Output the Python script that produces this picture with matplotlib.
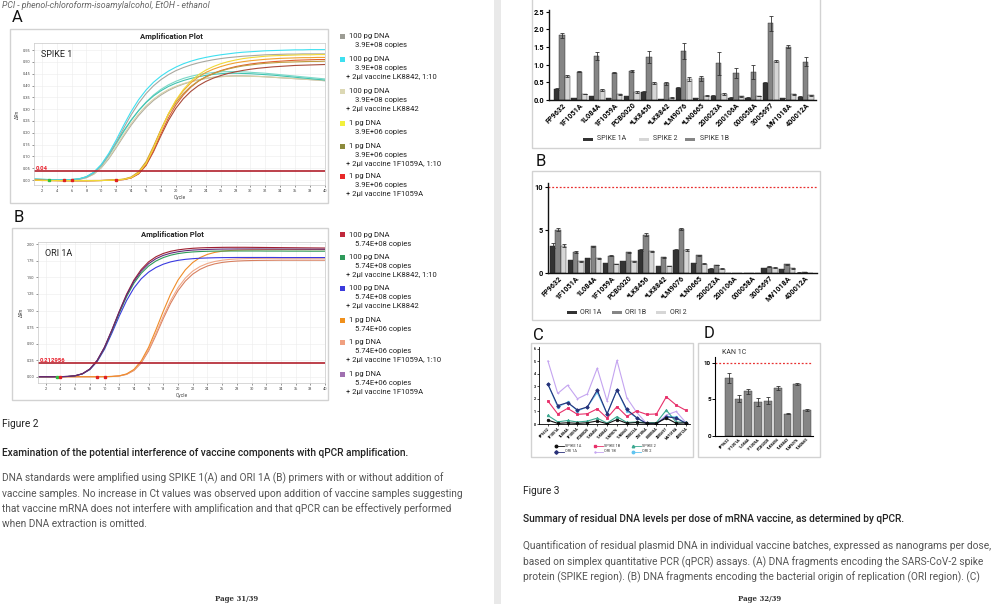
import matplotlib.pyplot as plt
from matplotlib.patches import Rectangle

plt.rcParams['font.family'] = ['Roboto', 'DejaVu Sans']

W, H = 1000, 604

# ---- Figure 2: amplification curves (dRn per cycle) ----
cycles = list(range(1, 41))

# SPIKE 1 (panel A, left page)
spike_gray1 = [0.003, 0.002, 0.001, 0.000, 0.000, 0.001, 0.004, 0.012, 0.030, 0.061, 0.106, 0.160, 0.220, 0.276, 0.325, 0.366, 0.399, 0.425, 0.446, 0.463, 0.476, 0.487, 0.496, 0.503, 0.509, 0.514, 0.518, 0.521, 0.524, 0.526, 0.528, 0.530, 0.531, 0.532, 0.533, 0.533, 0.534, 0.534, 0.534, 0.534]
spike_gray2 = [0.003, 0.002, 0.001, 0.000, 0.000, 0.001, 0.003, 0.010, 0.025, 0.052, 0.090, 0.137, 0.186, 0.232, 0.273, 0.308, 0.337, 0.360, 0.379, 0.394, 0.406, 0.416, 0.424, 0.430, 0.435, 0.438, 0.440, 0.441, 0.441, 0.440, 0.439, 0.437, 0.435, 0.433, 0.431, 0.429, 0.427, 0.425, 0.423, 0.420]
spike_cyan = [0.004, 0.003, 0.002, 0.001, 0.001, 0.002, 0.005, 0.014, 0.033, 0.066, 0.113, 0.170, 0.232, 0.290, 0.340, 0.381, 0.414, 0.440, 0.461, 0.478, 0.492, 0.503, 0.512, 0.519, 0.525, 0.530, 0.534, 0.538, 0.541, 0.543, 0.545, 0.547, 0.548, 0.549, 0.550, 0.551, 0.551, 0.552, 0.552, 0.552]
spike_teal1 = [0.004, 0.003, 0.002, 0.001, 0.001, 0.002, 0.005, 0.014, 0.033, 0.064, 0.108, 0.158, 0.208, 0.254, 0.294, 0.328, 0.356, 0.378, 0.396, 0.410, 0.421, 0.430, 0.437, 0.443, 0.447, 0.450, 0.452, 0.452, 0.451, 0.450, 0.448, 0.446, 0.444, 0.441, 0.438, 0.435, 0.432, 0.429, 0.426, 0.423]
spike_teal2 = [0.003, 0.002, 0.001, 0.001, 0.001, 0.002, 0.004, 0.012, 0.030, 0.060, 0.103, 0.153, 0.204, 0.252, 0.294, 0.330, 0.360, 0.384, 0.403, 0.418, 0.430, 0.439, 0.446, 0.451, 0.455, 0.458, 0.459, 0.459, 0.458, 0.456, 0.454, 0.452, 0.449, 0.446, 0.443, 0.440, 0.437, 0.434, 0.431, 0.428]
spike_beige = [0.002, 0.001, 0.001, 0.000, 0.000, 0.001, 0.003, 0.010, 0.026, 0.054, 0.094, 0.142, 0.192, 0.239, 0.280, 0.314, 0.342, 0.365, 0.383, 0.397, 0.408, 0.417, 0.424, 0.430, 0.434, 0.437, 0.439, 0.440, 0.440, 0.439, 0.438, 0.437, 0.435, 0.433, 0.431, 0.429, 0.427, 0.425, 0.423, 0.421]
spike_yellow = [0.000, -0.001, -0.002, -0.002, -0.002, -0.002, -0.002, -0.002, -0.002, -0.002, -0.001, 0.000, 0.003, 0.010, 0.030, 0.070, 0.135, 0.210, 0.280, 0.338, 0.383, 0.418, 0.445, 0.465, 0.480, 0.492, 0.501, 0.508, 0.514, 0.518, 0.521, 0.524, 0.526, 0.527, 0.528, 0.529, 0.530, 0.530, 0.531, 0.531]
spike_orange = [-0.001, -0.002, -0.002, -0.003, -0.003, -0.003, -0.003, -0.003, -0.003, -0.002, -0.001, 0.000, 0.003, 0.011, 0.032, 0.073, 0.138, 0.212, 0.280, 0.335, 0.378, 0.411, 0.436, 0.455, 0.469, 0.480, 0.489, 0.496, 0.501, 0.505, 0.508, 0.511, 0.513, 0.515, 0.516, 0.517, 0.518, 0.518, 0.519, 0.519]
spike_red = [0.000, -0.001, -0.002, -0.002, -0.003, -0.003, -0.003, -0.003, -0.002, -0.002, -0.001, 0.000, 0.002, 0.009, 0.027, 0.064, 0.125, 0.196, 0.263, 0.318, 0.360, 0.393, 0.418, 0.437, 0.451, 0.463, 0.472, 0.480, 0.486, 0.491, 0.495, 0.498, 0.501, 0.503, 0.505, 0.507, 0.508, 0.509, 0.510, 0.510]
spike_olive = [-0.001, -0.002, -0.002, -0.002, -0.003, -0.003, -0.003, -0.003, -0.003, -0.002, -0.001, 0.001, 0.004, 0.013, 0.035, 0.078, 0.143, 0.214, 0.278, 0.328, 0.366, 0.396, 0.419, 0.436, 0.450, 0.461, 0.470, 0.477, 0.483, 0.487, 0.491, 0.494, 0.496, 0.498, 0.499, 0.500, 0.501, 0.502, 0.502, 0.503]
spike_brown = [0.000, -0.001, -0.002, -0.002, -0.002, -0.002, -0.002, -0.002, -0.002, -0.002, -0.001, 0.000, 0.002, 0.009, 0.026, 0.062, 0.120, 0.188, 0.252, 0.304, 0.344, 0.375, 0.399, 0.417, 0.431, 0.442, 0.451, 0.458, 0.464, 0.469, 0.473, 0.476, 0.479, 0.481, 0.483, 0.485, 0.486, 0.487, 0.488, 0.489]

# ORI 1A (panel B, left page)
ori_red = [0.000, 0.000, 0.000, 0.001, 0.004, 0.014, 0.045, 0.115, 0.245, 0.445, 0.705, 0.985, 1.245, 1.460, 1.620, 1.735, 1.812, 1.862, 1.895, 1.916, 1.930, 1.940, 1.946, 1.950, 1.952, 1.954, 1.955, 1.955, 1.955, 1.954, 1.953, 1.952, 1.951, 1.950, 1.949, 1.948, 1.947, 1.946, 1.945, 1.944]
ori_purple = [0.000, 0.000, 0.000, 0.001, 0.004, 0.015, 0.046, 0.117, 0.247, 0.446, 0.703, 0.978, 1.232, 1.440, 1.595, 1.707, 1.783, 1.833, 1.866, 1.888, 1.903, 1.913, 1.919, 1.923, 1.926, 1.928, 1.929, 1.930, 1.930, 1.930, 1.930, 1.929, 1.929, 1.928, 1.928, 1.927, 1.927, 1.926, 1.926, 1.925]
ori_green = [0.000, 0.000, 0.000, 0.001, 0.004, 0.014, 0.044, 0.112, 0.239, 0.434, 0.687, 0.958, 1.208, 1.412, 1.563, 1.672, 1.748, 1.800, 1.836, 1.860, 1.875, 1.885, 1.891, 1.895, 1.897, 1.898, 1.899, 1.899, 1.899, 1.899, 1.899, 1.898, 1.898, 1.898, 1.897, 1.897, 1.897, 1.896, 1.896, 1.896]
ori_blue = [0.000, 0.000, 0.000, 0.001, 0.004, 0.013, 0.042, 0.107, 0.228, 0.415, 0.657, 0.915, 1.150, 1.340, 1.480, 1.580, 1.650, 1.700, 1.735, 1.758, 1.773, 1.783, 1.790, 1.794, 1.797, 1.799, 1.800, 1.801, 1.801, 1.801, 1.801, 1.801, 1.801, 1.800, 1.800, 1.800, 1.800, 1.800, 1.800, 1.800]
ori_orange = [0.000, 0.000, 0.000, 0.000, 0.000, 0.000, 0.000, 0.000, 0.000, 0.001, 0.004, 0.013, 0.042, 0.110, 0.240, 0.445, 0.710, 0.990, 1.250, 1.460, 1.615, 1.725, 1.800, 1.848, 1.878, 1.896, 1.906, 1.912, 1.915, 1.917, 1.918, 1.919, 1.919, 1.920, 1.920, 1.920, 1.920, 1.920, 1.920, 1.920]
ori_salmon = [0.000, 0.000, 0.000, 0.000, 0.000, 0.000, 0.000, 0.000, 0.000, 0.001, 0.004, 0.012, 0.038, 0.100, 0.220, 0.410, 0.655, 0.915, 1.150, 1.345, 1.490, 1.595, 1.665, 1.711, 1.741, 1.760, 1.772, 1.779, 1.783, 1.786, 1.788, 1.789, 1.789, 1.790, 1.790, 1.790, 1.790, 1.790, 1.790, 1.790]
ori_dsalmon = [0.000, 0.000, 0.000, 0.000, 0.000, 0.000, 0.000, 0.000, 0.000, 0.001, 0.003, 0.011, 0.035, 0.094, 0.208, 0.390, 0.627, 0.880, 1.110, 1.300, 1.445, 1.550, 1.622, 1.672, 1.705, 1.726, 1.739, 1.747, 1.752, 1.755, 1.757, 1.758, 1.759, 1.760, 1.760, 1.760, 1.760, 1.760, 1.760, 1.760]

spike_threshold = 0.04
ori_threshold = 0.212956
spike_base_cycles = [3, 5, 6, 12]
ori_base_cycles = [3.5, 4, 9, 10]

# ---- Figure 3: residual DNA per dose (ng) ----
batches = ['FP9632', '1F1051A', '1L084A', '1F1059A', 'PCB0020', '*LK8456', '*LK8842', '*LM9076',
           '*LN0665', '200023A', '200106A', '000058A', '3005697', 'MV1018A', '400012A']
spike_1a = [0.31, 0.05, 0.10, 0.05, 0.10, 0.24, 0.02, 0.35, 0.06, 0.12, 0.07, 0.07, 0.47, 0.06, 0.09]
spike_1a_err = [0.02, 0.01, 0.01, 0.01, 0.01, 0.02, 0.01, 0.02, 0.01, 0.02, 0.01, 0.01, 0.03, 0.01, 0.01]
spike_1b = [1.84, 0.80, 1.25, 0.77, 0.82, 1.21, 0.47, 1.39, 0.61, 1.04, 0.77, 0.80, 2.17, 1.51, 1.08]
spike_1b_err = [0.07, 0.02, 0.12, 0.01, 0.04, 0.17, 0.04, 0.23, 0.08, 0.32, 0.15, 0.20, 0.22, 0.05, 0.13]
spike_2 = [0.68, 0.17, 0.28, 0.16, 0.23, 0.47, 0.07, 0.59, 0.12, 0.16, 0.10, 0.11, 1.11, 0.16, 0.13]
spike_2_err = [0.02, 0.01, 0.02, 0.01, 0.02, 0.03, 0.01, 0.05, 0.02, 0.03, 0.01, 0.01, 0.02, 0.02, 0.02]

ori_1a = [3.18, 1.47, 1.71, 1.12, 1.36, 2.71, 0.81, 2.71, 1.16, 0.50, 0.04, 0.02, 0.58, 0.47, 0.05]
ori_1a_err = [0.30, 0.05, 0.06, 0.04, 0.05, 0.10, 0.05, 0.08, 0.05, 0.04, 0.01, 0.01, 0.04, 0.03, 0.01]
ori_1b = [5.04, 2.44, 3.10, 2.02, 2.40, 4.46, 1.82, 5.08, 2.09, 0.93, 0.04, 0.02, 0.72, 1.00, 0.10]
ori_1b_err = [0.15, 0.08, 0.05, 0.06, 0.05, 0.20, 0.06, 0.10, 0.06, 0.05, 0.01, 0.01, 0.05, 0.10, 0.02]
ori_2 = [3.18, 1.36, 1.74, 1.05, 1.36, 2.52, 0.81, 2.71, 1.05, 0.50, 0.03, 0.02, 0.62, 0.55, 0.03]
ori_2_err = [0.20, 0.06, 0.06, 0.05, 0.05, 0.06, 0.05, 0.10, 0.06, 0.04, 0.01, 0.01, 0.05, 0.08, 0.01]

kan_batches = batches[:9]
kan_1c = [7.95, 5.10, 6.10, 4.65, 4.85, 6.55, 3.05, 7.15, 3.60]
kan_1c_err = [0.65, 0.50, 0.30, 0.60, 0.50, 0.30, 0.08, 0.12, 0.15]
limit_ng = 10

fig = plt.figure(figsize=(W / 100, H / 100), dpi=100)
fig.patch.set_facecolor('white')


def px_axes(x, y, w, h):
    return fig.add_axes([x / W, 1 - (y + h) / H, w / W, h / H])


def px_text(x, y, s, **kw):
    kw.setdefault('va', 'center')
    fig.text(x / W, 1 - y / H, s, **kw)


def px_rect(x0, y0, x1, y1, ec='#d2d2d2', fc='none', lw=1.0):
    fig.add_artist(Rectangle((x0 / W, 1 - y1 / H), (x1 - x0) / W, (y1 - y0) / H,
                             transform=fig.transFigure, ec=ec, fc=fc, lw=lw))


# page gap
px_rect(494, -2, 501, H + 2, ec='none', fc='#e9e9e9', lw=0)

body_col = '#555555'
head_col = '#222222'
fs_body = 7.3

# ================= LEFT PAGE =================
px_text(2, 5, 'PCI - phenol-chloroform-isoamylalcohol, EtOH - ethanol', fontsize=6.3,
        color='#666666', style='italic')


def amp_panel(letter, box, ax_rect, curves, ylim, yticks, xlim, thr, thr_lab, name, base_cycles):
    x0, y0, x1, y1 = box
    px_text(x0 + 2, y0 - 11, letter, fontsize=12, color='#111111')
    px_rect(x0, y0, x1, y1)
    px_text((x0 + x1) / 2 + 2, y0 + 7, 'Amplification Plot', fontsize=5.6, fontweight='bold',
            ha='center', color='#222222')
    ax = px_axes(*ax_rect)
    for vals, col in curves:
        ax.plot(cycles, vals, color=col, lw=0.8)
    ax.axhline(thr, color='#b2202c', lw=1.2)
    ax.text(xlim[0] + 0.2, thr, thr_lab, color='#e8202c', fontsize=4.3, fontweight='bold',
            va='bottom', ha='left')
    ax.plot(base_cycles[:1], [thr * 0], 's', color='#30c040', ms=1.8)
    ax.plot(base_cycles[1:], [thr * 0] * (len(base_cycles) - 1), 's', color='#e02020', ms=1.6)
    ax.text(xlim[0] + 1.0, ylim[1] - (ylim[1] - ylim[0]) * 0.08, name, fontsize=6.5,
            va='center', color='#222222')
    ax.set_xlim(*xlim)
    ax.set_ylim(*ylim)
    ax.set_xticks(range(2, 41, 2))
    ax.set_yticks(yticks)
    ax.set_yticklabels(['%.2f' % t for t in yticks])
    ax.tick_params(labelsize=2.8, length=1.2, width=0.4, pad=1.5, colors='#444444')
    ax.grid(True, color='#ececec', lw=0.4)
    ax.set_axisbelow(True)
    for s in ax.spines.values():
        s.set_color('#c8c8c8')
        s.set_linewidth(0.5)
    ax.set_xlabel('Cycle', fontsize=3.6, labelpad=1.5, color='#444444')
    ax.set_ylabel('ΔRn', fontsize=3.6, labelpad=2, color='#444444')
    return ax


amp_panel('A', (10, 29, 328, 203), (34, 43, 291, 142),
          [(spike_gray2, '#b0aca0'), (spike_beige, '#d8d0a8'), (spike_teal2, '#7ad8c8'),
           (spike_teal1, '#40c4b0'), (spike_gray1, '#a8a8a0'), (spike_cyan, '#3ee0f0'),
           (spike_brown, '#a84a3a'), (spike_red, '#e06030'), (spike_olive, '#c09c40'),
           (spike_orange, '#f0a030'), (spike_yellow, '#f0d838')],
          (-0.021, 0.58), [0.05 * i for i in range(12)], (0.97, 40),
          spike_threshold, '0.04', 'SPIKE 1', spike_base_cycles)

amp_panel('B', (12, 228, 328, 400), (38, 242, 287, 141),
          [(ori_dsalmon, '#d88060'), (ori_salmon, '#f0a888'), (ori_orange, '#f08c28'),
           (ori_blue, '#3a3ae0'), (ori_green, '#2e9a5a'), (ori_red, '#a02030'),
           (ori_purple, '#602878')],
          (-0.095, 2.035), [0.25 * i for i in range(9)], (0.95, 40),
          ori_threshold, '0.212956', 'ORI 1A', ori_base_cycles)

legend_a = [('#9c9c94', ['100 pg DNA', '3.9E+08 copies']),
            ('#3ee0f0', ['100 pg DNA', '3.9E+08 copies', '+ 2µl vaccine LK8842, 1:10']),
            ('#dcd8b4', ['100 pg DNA', '3.9E+08 copies', '+ 2µl vaccine LK8842']),
            ('#f2f03c', ['1 pg DNA', '3.9E+06 copies']),
            ('#8c8a3c', ['1 pg DNA', '3.9E+06 copies', '+ 2µl vaccine 1F1059A, 1:10']),
            ('#e82828', ['1 pg DNA', '3.9E+06 copies', '+ 2µl vaccine 1F1059A'])]
legend_a_y = [36, 59, 91, 123, 146, 176]

legend_b = [('#c0283c', ['100 pg DNA', '5.74E+08 copies']),
            ('#2e9a5a', ['100 pg DNA', '5.74E+08 copies', '+ 2µl vaccine LK8842, 1:10']),
            ('#3a3adc', ['100 pg DNA', '5.74E+08 copies', '+ 2µl vaccine LK8842']),
            ('#f0901c', ['1 pg DNA', '5.74E+06 copies']),
            ('#f0a080', ['1 pg DNA', '5.74E+06 copies', '+ 2µl vaccine 1F1059A, 1:10']),
            ('#a070b0', ['1 pg DNA', '5.74E+06 copies', '+ 2µl vaccine 1F1059A'])]
legend_b_y = [235, 257, 288, 320, 342, 374]

for entries, ys in ((legend_a, legend_a_y), (legend_b, legend_b_y)):
    for (col, lines), y in zip(entries, ys):
        px_rect(340, y - 2.5, 345, y + 2.5, ec='none', fc=col, lw=0)
        for k, line in enumerate(lines):
            xoff = 349 if k == 0 else (346 if line.startswith('+') else 355)
            px_text(xoff, y + 9 * k, line, fontsize=5.5, color='#222222')

px_text(2, 424, 'Figure 2', fontsize=fs_body, color=head_col)
px_text(2, 453, 'Examination of the potential interference of vaccine components with qPCR amplification.',
        fontsize=fs_body, color=head_col, fontweight='medium')
left_body = ['DNA standards were amplified using SPIKE 1(A) and ORI 1A (B) primers with or without addition of',
             'vaccine samples. No increase in Ct values was observed upon addition of vaccine samples suggesting',
             'that vaccine mRNA does not interfere with amplification and that qPCR can be effectively performed',
             'when DNA extraction is omitted.']
for i, line in enumerate(left_body):
    px_text(2, 478 + 15.4 * i, line, fontsize=fs_body, color=body_col)
px_text(237, 599, 'Page 31/39', fontsize=5, family='DejaVu Serif', fontweight='bold',
        color='#333333', ha='center')

# ================= RIGHT PAGE =================
bar_cols = {'1A': '#333333', '1B': '#858585', '2': '#d6d6d6'}


def style_bar_axes(ax):
    for s in ('top', 'right'):
        ax.spines[s].set_visible(False)
    for s in ('left', 'bottom'):
        ax.spines[s].set_linewidth(1.0)
        ax.spines[s].set_color('#111111')
    ax.tick_params(axis='y', labelsize=5.3, length=2.5, width=0.8, pad=1)
    ax.tick_params(axis='x', labelsize=5.2, length=0, pad=1)
    for t in ax.get_yticklabels() + ax.get_xticklabels():
        t.set_fontweight('bold')


def grouped_bars(ax, series, labels):
    xs = list(range(len(labels)))
    offs = (-0.31, 0.0, 0.31)
    for (vals, errs, col), off in zip(series, offs):
        ax.bar([x + off for x in xs], vals, width=0.3, color=col, edgecolor='#222222', lw=0.3,
               yerr=errs, error_kw=dict(elinewidth=0.6, capsize=1.2, capthick=0.6, ecolor='#333333'))
    ax.set_xticks(xs)
    ax.set_xticklabels(labels, rotation=45, ha='right', rotation_mode='anchor')


# panel A (spike)
px_rect(532, -5, 820, 148)
axA = px_axes(549, 10, 267, 90)
grouped_bars(axA, [(spike_1a, spike_1a_err, bar_cols['1A']), (spike_1b, spike_1b_err, bar_cols['1B']),
                   (spike_2, spike_2_err, bar_cols['2'])], batches)
axA.set_xlim(-0.75, 14.6)
axA.set_ylim(0, 2.55)
axA.set_yticks([0, 0.5, 1.0, 1.5, 2.0, 2.5])
axA.set_yticklabels(['0.0', '0.5', '1.0', '1.5', '2.0', '2.5'])
style_bar_axes(axA)

for x_sw, x_t, col, lab in ((583, 597, bar_cols['1A'], 'SPIKE 1A'), (639, 653, bar_cols['2'], 'SPIKE 2'),
                            (685, 700, bar_cols['1B'], 'SPIKE 1B')):
    px_rect(x_sw, 137.5, x_sw + 10, 140.5, ec='none', fc=col, lw=0)
    px_text(x_t, 139, lab, fontsize=5, color='#333333')

# panel B (ori)
px_text(536, 162, 'B', fontsize=12, color='#111111')
px_rect(532, 171, 820, 320)
axB = px_axes(548, 183, 269, 90)
grouped_bars(axB, [(ori_1a, ori_1a_err, bar_cols['1A']), (ori_1b, ori_1b_err, bar_cols['1B']),
                   (ori_2, ori_2_err, bar_cols['2'])], batches)
axB.axhline(limit_ng, color='#e83030', lw=0.9, ls=(0, (1.5, 1.5)))
axB.set_xlim(-0.57, 14.7)
axB.set_ylim(0, 10.47)
axB.set_yticks([0, 5, 10])
style_bar_axes(axB)

for x_sw, x_t, col, lab in ((567, 580, bar_cols['1A'], 'ORI 1A'), (612, 625, bar_cols['1B'], 'ORI 1B'),
                            (656, 670, bar_cols['2'], 'ORI 2')):
    px_rect(x_sw, 310.5, x_sw + 10, 313.5, ec='none', fc=col, lw=0)
    px_text(x_t, 312, lab, fontsize=5, color='#333333')

# panel C (all assays, lines)
px_text(533, 335, 'C', fontsize=12, color='#111111')
px_rect(531, 343, 693, 457)
axC = px_axes(539, 347, 151, 77)
c_series = [(spike_1a, '#111111', 'o', 'SPIKE 1A'), (spike_1b, '#e8306a', 's', 'SPIKE 1B'),
            (spike_2, '#3aa890', '^', 'SPIKE 2'), (ori_1a, '#283078', 'D', 'ORI 1A'),
            (ori_1b, '#c4a4f0', '+', 'ORI 1B'), (ori_2, '#60c4f0', 'o', 'ORI 2')]
draw_order = [5, 4, 2, 1, 3, 0]
for k in draw_order:
    vals, col, mk, lab = c_series[k]
    axC.plot(range(len(batches)), vals, color=col, marker=mk, ms=1.8, lw=0.8, mew=0.6)
axC.set_xlim(-0.9, 14.4)
axC.set_ylim(0, 6.15)
axC.set_yticks(range(7))
axC.set_xticks(range(len(batches)))
axC.set_xticklabels(batches, rotation=45, ha='right', rotation_mode='anchor')
for s in ('top', 'right'):
    axC.spines[s].set_visible(False)
for s in ('left', 'bottom'):
    axC.spines[s].set_linewidth(0.6)
axC.tick_params(labelsize=2.6, length=1.2, width=0.5, pad=0.8)
for t in axC.get_xticklabels() + axC.get_yticklabels():
    t.set_fontweight('bold')

leg_x = [(560, 565), (599, 604), (637, 642)]
for i, (vals, col, mk, lab) in enumerate(c_series):
    xm, xt = leg_x[i % 3]
    yl = 446 + 5.5 * (i // 3)
    fig.add_artist(plt.Line2D([(xm - 4) / W, (xm + 4) / W], [1 - yl / H, 1 - yl / H], color=col,
                              lw=0.6, marker=mk, ms=1.8, markevery=[0], transform=fig.transFigure))
    px_text(xt, yl, lab, fontsize=2.8, color='#333333')

# panel D (kanamycin)
px_text(704, 333, 'D', fontsize=12, color='#111111')
px_rect(698, 343, 820, 457)
axD = px_axes(715, 357, 98, 79)
axD.bar(range(len(kan_batches)), kan_1c, width=0.8, color='#858585', edgecolor='#333333', lw=0.3,
        yerr=kan_1c_err, error_kw=dict(elinewidth=0.6, capsize=1.5, capthick=0.6, ecolor='#333333'))
axD.axhline(limit_ng, color='#e83030', lw=0.9, ls=(0, (1.5, 1.5)))
axD.set_xlim(-1.4, 8.6)
axD.set_ylim(0, 10.8)
axD.set_yticks([0, 5, 10])
axD.set_xticks(range(len(kan_batches)))
axD.set_xticklabels(kan_batches, rotation=45, ha='right', rotation_mode='anchor')
for s in ('top', 'right'):
    axD.spines[s].set_visible(False)
for s in ('left', 'bottom'):
    axD.spines[s].set_linewidth(0.8)
axD.tick_params(axis='y', labelsize=4.5, length=2, width=0.7, pad=1)
axD.tick_params(axis='x', labelsize=2.8, length=0, pad=1)
for t in axD.get_xticklabels() + axD.get_yticklabels():
    t.set_fontweight('bold')
px_text(722, 353, 'KAN 1C', fontsize=5, color='#333333')

px_text(523, 491, 'Figure 3', fontsize=fs_body, color=head_col)
px_text(523, 519, 'Summary of residual DNA levels per dose of mRNA vaccine, as determined by qPCR.',
        fontsize=fs_body, color=head_col, fontweight='medium')
right_body = ['Quantification of residual plasmid DNA in individual vaccine batches, expressed as nanograms per dose,',
              'based on simplex quantitative PCR (qPCR) assays. (A) DNA fragments encoding the SARS-CoV-2 spike',
              'protein (SPIKE region). (B) DNA fragments encoding the bacterial origin of replication (ORI region). (C)']
for i, line in enumerate(right_body):
    px_text(523, 546 + 15.8 * i, line, fontsize=fs_body, color=body_col)
px_text(760, 599, 'Page 32/39', fontsize=5, family='DejaVu Serif', fontweight='bold',
        color='#333333', ha='center')

fig.savefig('out.png', dpi=100, facecolor='white')
